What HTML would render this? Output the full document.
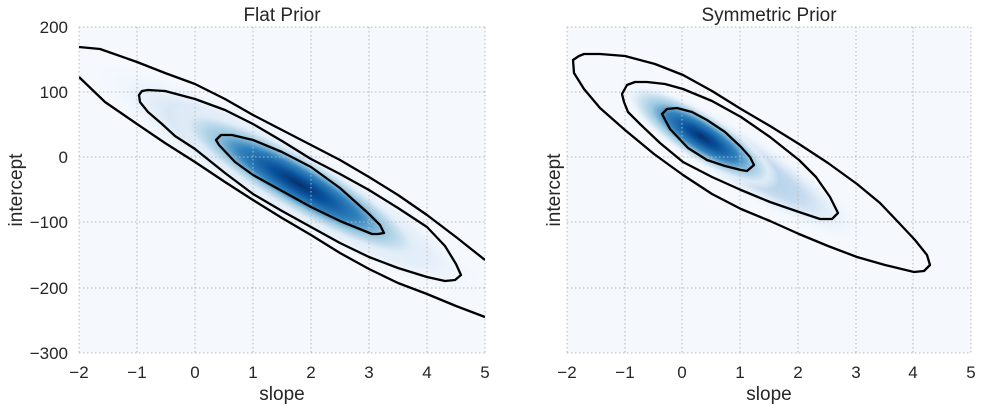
<!DOCTYPE html>
<html><head><style>body{margin:0;background:#fff}svg{display:block}</style></head><body>
<svg width="983" height="410" xmlns="http://www.w3.org/2000/svg" font-family="Liberation Sans, DejaVu Sans, sans-serif" fill="#262626">
<defs>
<radialGradient id="g1" cx="0.5" cy="0.5" r="0.5">
<stop offset="0" stop-color="#08306b"/><stop offset="0.2" stop-color="#08519c"/><stop offset="0.45" stop-color="#3182bd"/><stop offset="0.65" stop-color="#9ecae1"/><stop offset="0.85" stop-color="#deebf7"/><stop offset="1" stop-color="#f5f9fe" stop-opacity="0"/>
</radialGradient>
<radialGradient id="g2" cx="0.5" cy="0.5" r="0.5">
<stop offset="0" stop-color="#9ecae1"/><stop offset="0.5" stop-color="#c6dbef"/><stop offset="1" stop-color="#f5f9fe" stop-opacity="0"/>
</radialGradient>
<clipPath id="c1"><rect x="79" y="27" width="406" height="326"/></clipPath>
<clipPath id="c2"><rect x="567" y="27" width="404" height="326"/></clipPath>
</defs>
<rect x="79" y="27" width="406" height="326" fill="#f5f9fe"/>
<rect x="567" y="27" width="404" height="326" fill="#f5f9fe"/>
<g clip-path="url(#c1)">
<ellipse cx="290" cy="180" rx="230" ry="40" fill="url(#g2)" transform="rotate(30 290 180)"/>
<ellipse cx="299" cy="184" rx="150" ry="30" fill="url(#g1)" transform="rotate(30 299 184)"/>
</g>
<g clip-path="url(#c2)">
<ellipse cx="740" cy="160" rx="150" ry="30" fill="url(#g2)" transform="rotate(32 740 160)"/>
<ellipse cx="702" cy="137" rx="90" ry="25" fill="url(#g1)" transform="rotate(32 702 137)"/>
</g>
<g stroke="#b8b8b8" stroke-dasharray="1.5,2.5" stroke-width="1">
<path d="M79 27V353M137 27V353M195 27V353M253 27V353M311 27V353M369 27V353M427 27V353M485 27V353M79 27H485M79 92H485M79 157H485M79 222H485M79 288H485M79 353H485"/>
<path d="M567 27V353M625 27V353M682 27V353M740 27V353M798 27V353M856 27V353M913 27V353M971 27V353M567 27H971M567 92H971M567 157H971M567 222H971M567 288H971M567 353H971"/>
</g>
<g fill="none" stroke="#000" stroke-width="2.3" stroke-linejoin="round">
<g clip-path="url(#c1)">
<polyline points="79,47 100,49 137,62 165,73 195,84 225,99 253,115 282,130 311,145 340,160 369,177 398,195 427,215 456,237 485,260"/>
<polyline points="79,77 105,102 137,124 165,143 195,162 225,182 253,200 282,218 311,235 340,253 369,269 398,283 427,294 456,306 485,317"/>
<polygon points="139,95 142,91 148,90 165,91 195,99 225,110 253,124 282,141 311,159 340,174 369,190 398,208 427,227 445,246 456,264 461,275 455,280 445,281 427,277 398,268 369,257 340,243 311,227 282,211 253,194 225,173 195,149 175,136 162,124 148,112 140,102"/>
<polygon points="216,140 221,135 232,135 253,140 282,152 311,167 340,188 369,214 380,225 384,233 378,234 372,234 340,221 311,207 282,191 253,175 235,162 219,145"/>
</g>
<g clip-path="url(#c2)">
<polygon points="573,60 579,56 584,54 600,54 625,56 655,64 683,75 712,91 741,109 770,126 799,144 828,163 857,184 880,203 900,224 915,240 927,255 930,265 924,271 914,272 885,265 857,257 828,246 799,234 770,221 741,209 712,194 683,175 654,154 625,130 600,108 584,89 574,73"/>
<polygon points="622,94 627,85 635,82 647,82 665,84 683,89 712,101 741,117 770,137 799,160 816,177 830,197 838,213 832,219 820,219 799,212 770,202 741,190 712,177 683,162 660,143 640,124 628,112 624,102"/>
<polygon points="662,114 667,109 677,108 692,112 707,120 725,132 741,147 750,157 754,165 747,171 741,170 725,166 707,160 688,148 670,129"/>
</g>
</g>
<g font-size="17" text-anchor="middle">
<text x="79" y="378">−2</text><text x="137" y="378">−1</text><text x="195" y="378">0</text><text x="253" y="378">1</text><text x="311" y="378">2</text><text x="369" y="378">3</text><text x="427" y="378">4</text><text x="485" y="378">5</text>
<text x="567" y="378">−2</text><text x="625" y="378">−1</text><text x="682" y="378">0</text><text x="740" y="378">1</text><text x="798" y="378">2</text><text x="856" y="378">3</text><text x="913" y="378">4</text><text x="971" y="378">5</text>
</g>
<g font-size="17" text-anchor="end">
<text x="68" y="33">200</text><text x="68" y="98">100</text><text x="68" y="163">0</text><text x="68" y="228">−100</text><text x="68" y="294">−200</text><text x="68" y="359">−300</text>
</g>
<g font-size="19" text-anchor="middle">
<text x="282" y="400">slope</text><text x="769" y="400">slope</text>
<text x="282" y="21">Flat Prior</text><text x="769" y="21">Symmetric Prior</text>
<text transform="translate(22,190) rotate(-90)">intercept</text>
<text transform="translate(560,190) rotate(-90)">intercept</text>
</g>
</svg>
</body></html>
